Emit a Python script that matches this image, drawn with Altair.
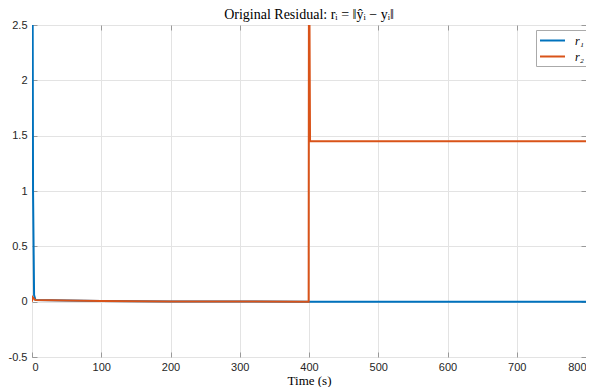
import altair as alt
import pandas as pd

# ---- data ----
t_r1 = [0, 0.5, 1.5, 3, 5, 50, 100, 200, 300, 400, 800]
v_r1 = [6.0, 4.0, 1.0, 0.06, 0.015, 0.01, 0.006, 0.002, 0.001, 0.0, 0.0]
t_r2 = [0, 1, 2.5, 5, 50, 100, 200, 300, 399.5, 400, 401.5, 800]
v_r2 = [0.0, 0.04, 0.03, 0.014, 0.01, 0.006, 0.002, 0.001, 0.0, 3.5, 1.45, 1.45]
series_names = ["r₁", "r₂"]
series_colors = ["#0072BD", "#D95319"]
x_ticks = [0, 100, 200, 300, 400, 500, 600, 700, 800]
y_ticks = [-0.5, 0, 0.5, 1, 1.5, 2, 2.5]

rows = []
for i, (t, v) in enumerate(zip(t_r1, v_r1)):
    rows.append({"t": t, "v": v, "series": series_names[0], "i": i})
for i, (t, v) in enumerate(zip(t_r2, v_r2)):
    rows.append({"t": t, "v": v, "series": series_names[1], "i": i})
df = pd.DataFrame(rows)

xscale = alt.Scale(domain=[0, 800], nice=False, zero=False)
yscale = alt.Scale(domain=[-0.5, 2.5], nice=False, zero=False)

label_font = "Liberation Sans"
serif = "Liberation Serif, DejaVu Serif"
axis_gray = "#999999"

lines = alt.Chart(df).mark_line(strokeWidth=2, clip=True).encode(
    x=alt.X("t:Q", scale=xscale, axis=alt.Axis(
        values=x_ticks, title="Time (s)", offset=-5, tickSize=5, domain=False,
        labelPadding=4, grid=True, titleFont=serif, titleFontSize=13,
        titleFontWeight="normal", titleColor="#000000", titlePadding=2,
        labelExpr="'' + datum.value")),
    y=alt.Y("v:Q", scale=yscale, axis=alt.Axis(
        values=y_ticks, title=None, offset=-5, tickSize=5, domain=False,
        labelPadding=5, grid=True, labelExpr="'' + datum.value")),
    color=alt.Color("series:N", scale=alt.Scale(domain=series_names, range=series_colors),
                    legend=alt.Legend(title=None, orient="none", legendX=504, legendY=5,
                                      symbolType="M-2,0H2", symbolStrokeWidth=2, symbolSize=156,
                                      symbolOffset=6, labelOffset=15,
                                      labelFont=serif, labelFontSize=12, labelFontStyle="italic",
                                      fillColor="#ffffff", strokeColor="#aaaaaa", padding=3,
                                      rowPadding=2, labelColor="#000000")),
    order="i:Q",
)

ticks = alt.Chart(df).mark_point(opacity=0, clip=True).encode(
    x=alt.X("t:Q", scale=xscale, axis=alt.Axis(
        orient="top", values=x_ticks, labels=False, title=None, grid=False,
        domain=False, offset=-5, tickSize=5)),
    y=alt.Y("v:Q", scale=yscale, axis=alt.Axis(
        orient="right", values=y_ticks, labels=False, title=None, grid=False,
        domain=False, offset=-5, tickSize=5)),
)

chart = alt.layer(lines, ticks).resolve_scale(x="independent", y="independent").properties(
    width=554, height=332,
    autosize=alt.AutoSizeParams(type="none"),
    padding={"left": 24, "top": 17, "right": 0, "bottom": 30},
    title=alt.TitleParams("Original Residual: rᵢ = ‖ŷᵢ − yᵢ‖", font=serif, fontSize=14,
                          fontWeight="normal", color="#000000", offset=-3),
).configure_view(stroke=axis_gray, strokeWidth=1).configure_axis(
    labelFont=label_font, labelFontSize=11, labelColor="#262626",
    tickColor=axis_gray, gridColor="#e3e3e3", gridWidth=1,
)

chart.save("out.html", embed_options={"renderer": "svg", "actions": False})
